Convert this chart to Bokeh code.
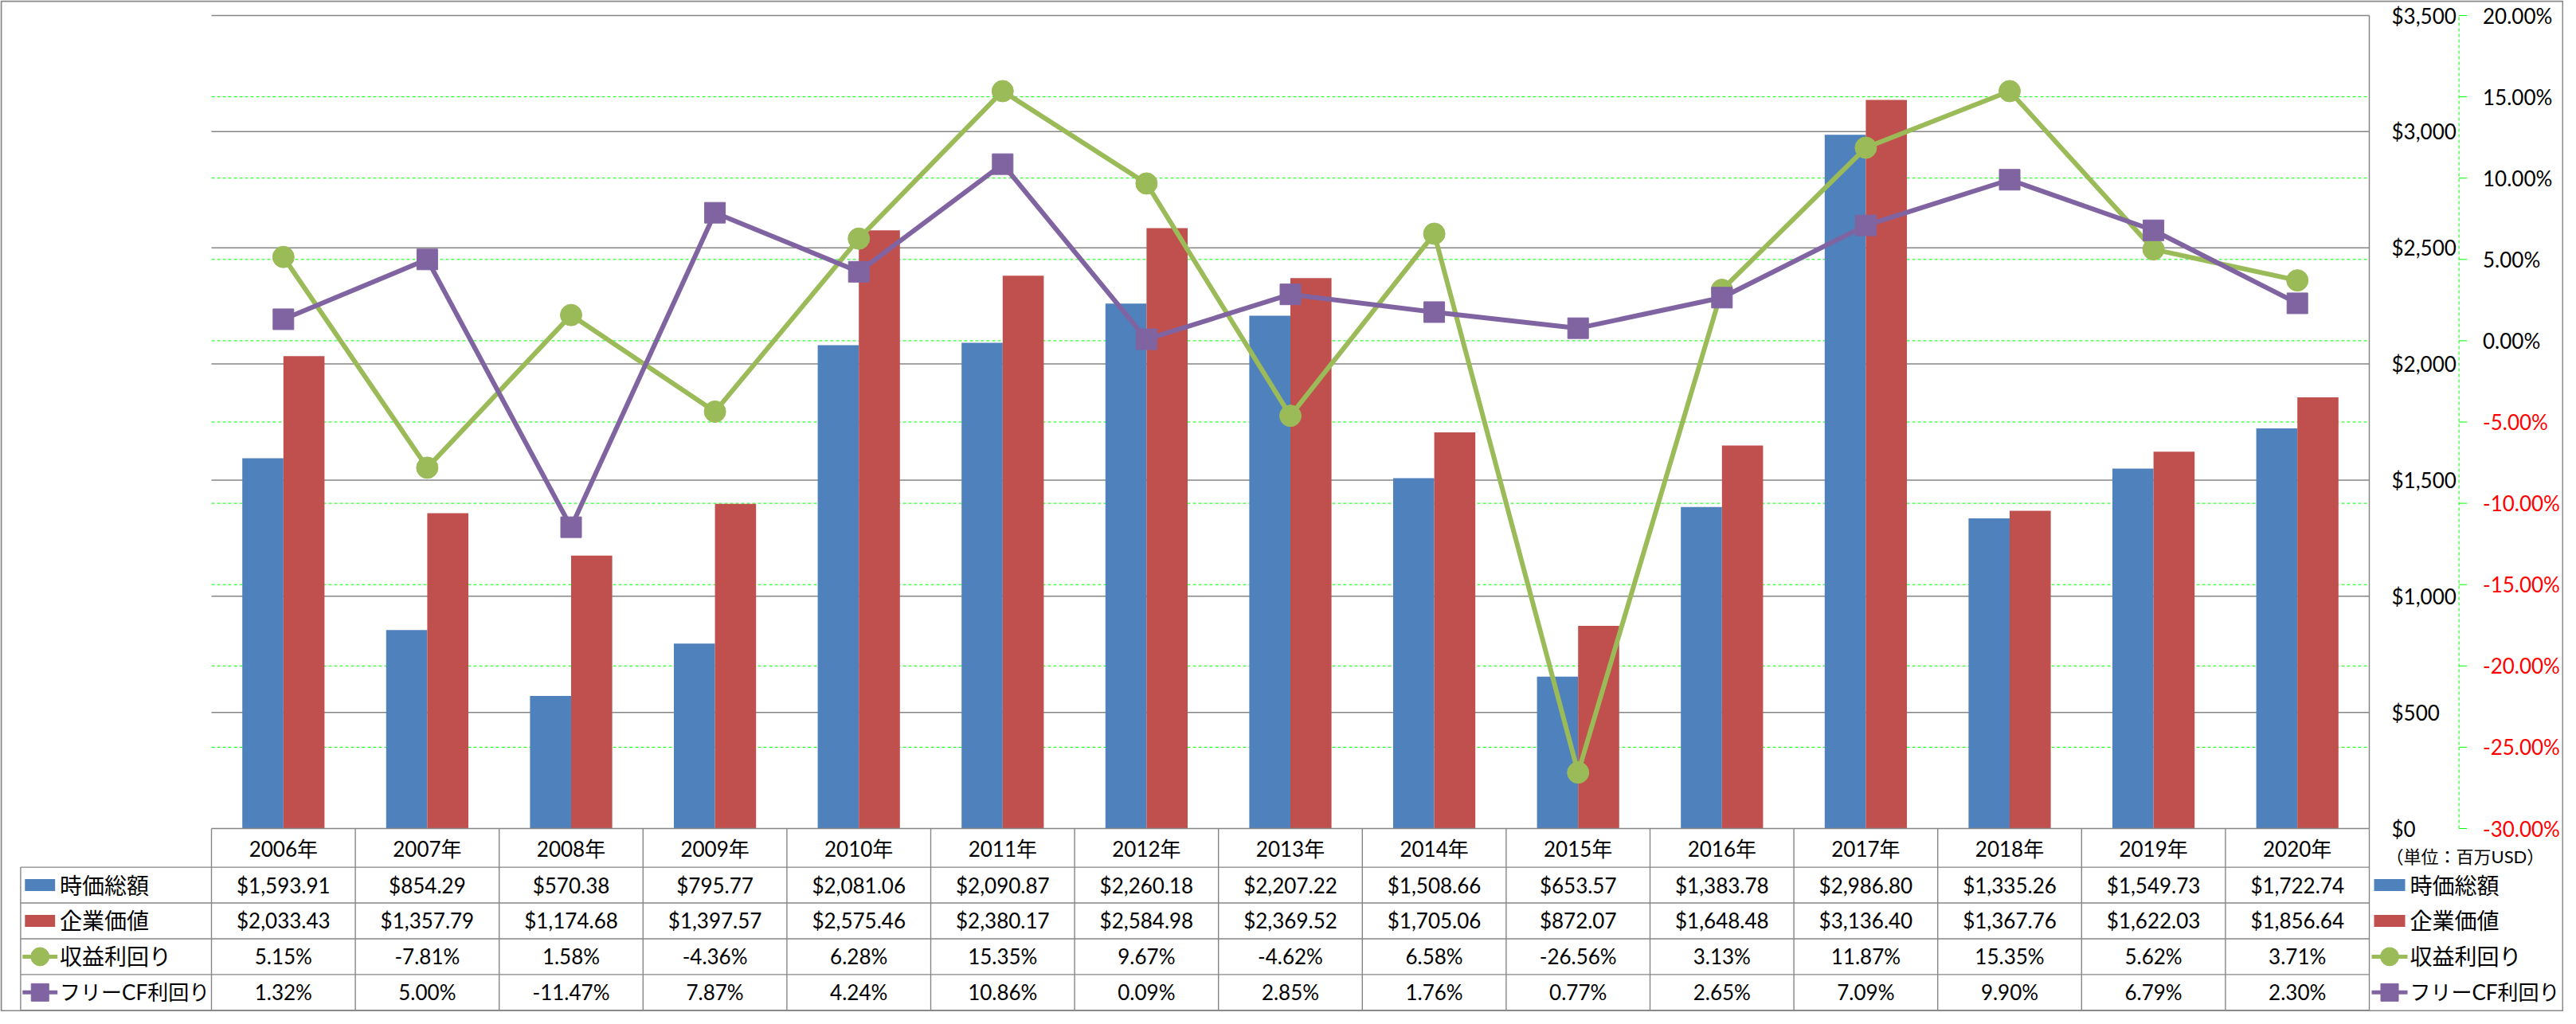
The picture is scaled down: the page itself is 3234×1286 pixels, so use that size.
from bokeh.plotting import figure
from bokeh.models import Range1d
from bokeh.embed import file_html
from bokeh.resources import INLINE
from bokeh.core.properties import value

# ---------------- data ----------------
years = ["2006年", "2007年", "2008年", "2009年", "2010年", "2011年", "2012年", "2013年",
         "2014年", "2015年", "2016年", "2017年", "2018年", "2019年", "2020年"]
mcap = [1593.91, 854.29, 570.38, 795.77, 2081.06, 2090.87, 2260.18, 2207.22,
        1508.66, 653.57, 1383.78, 2986.80, 1335.26, 1549.73, 1722.74]
ev = [2033.43, 1357.79, 1174.68, 1397.57, 2575.46, 2380.17, 2584.98, 2369.52,
      1705.06, 872.07, 1648.48, 3136.40, 1367.76, 1622.03, 1856.64]
earn_yield = [5.15, -7.81, 1.58, -4.36, 6.28, 15.35, 9.67, -4.62,
              6.58, -26.56, 3.13, 11.87, 15.35, 5.62, 3.71]
fcf_yield = [1.32, 5.00, -11.47, 7.87, 4.24, 10.86, 0.09, 2.85,
             1.76, 0.77, 2.65, 7.09, 9.90, 6.79, 2.30]
series_names = ["時価総額", "企業価値", "収益利回り", "フリーCF利回り"]
usd_ticks = [0, 500, 1000, 1500, 2000, 2500, 3000, 3500]
pct_ticks = [-30, -25, -20, -15, -10, -5, 0, 5, 10, 15, 20]
unit_note = "（単位：百万USD）"

# ---------------- style / layout (pixels) ----------------
BLUE, RED, GREEN, PURPLE = "#4F81BD", "#C0504D", "#9BBB59", "#8064A2"
GRAY, LIME, BORDER = "#868686", "#00FF00", "#898989"
FONT = "Lato, Noto Sans CJK JP"
FS = "26px"
LEG_FS = ["28px", "28px", "28px", "26px"]

W, H = 3218, 1270
PL, PR = 265, 2974          # plot area left / right
PT, PB = 19, 1040           # plot area top / bottom
HDR_B = 1088.6              # bottom of the header row of the data table
RH = 44.93                  # data table row height
LEG_L = 25.4                # left edge of the legend column of the table
USD_LX = 3002               # left edge of $ labels
PCT_AX = 3086.6             # % axis line
PCT_LX = 3116.5             # left edge of % labels

n = len(years)
cw = (PR - PL) / n
idx = list(range(n))


def x_at(px):
    return -0.5 + (px - PL) / cw


def usd_at(py):
    return (PB - py) * (usd_ticks[-1] - usd_ticks[0]) / (PB - PT) + usd_ticks[0]


def pct_at(py):
    return pct_ticks[0] + (PB - py) * (pct_ticks[-1] - pct_ticks[0]) / (PB - PT)


p = figure(width=W, height=H,
           x_range=Range1d(x_at(0), x_at(W)), y_range=Range1d(usd_at(H), usd_at(0)),
           min_border=0, x_axis_location=None, y_axis_location=None,
           toolbar_location=None, output_backend="svg", outline_line_color=None,
           background_fill_color="white", border_fill_color="white")
p.grid.grid_line_color = None
p.extra_y_ranges = {"pct": Range1d(pct_at(H), pct_at(0)), "px": Range1d(H, 0)}
p.extra_x_ranges = {"px": Range1d(0, W)}

txt = dict(text_font=value(FONT), text_font_size=FS, text_color="black",
           text_baseline="middle")

# ---------------- grid lines ----------------
p.segment(x0=-0.5, x1=n - 0.5, y0=usd_ticks[1:], y1=usd_ticks[1:],
          line_color=GRAY, line_width=1.5)
p.segment(x0=-0.5, x1=n - 0.5, y0=pct_ticks[1:-1], y1=pct_ticks[1:-1], y_range_name="pct",
          line_color=LIME, line_width=1, line_dash="4 3")

# ---------------- bars ----------------
gap = 1.5
bw = 1.0 / (2 + gap)
p.vbar(x=[i - bw / 2 for i in idx], top=mcap, width=bw, fill_color=BLUE, line_color=None)
p.vbar(x=[i + bw / 2 for i in idx], top=ev, width=bw, fill_color=RED, line_color=None)

# ---------------- lines ----------------
p.line(idx, earn_yield, y_range_name="pct", line_color=GREEN, line_width=6, line_join="round")
p.scatter(idx, earn_yield, y_range_name="pct", marker="circle", size=27,
          fill_color=GREEN, line_color=GREEN)
p.line(idx, fcf_yield, y_range_name="pct", line_color=PURPLE, line_width=6, line_join="round")
p.scatter(idx, fcf_yield, y_range_name="pct", marker="square", size=26,
          fill_color=PURPLE, line_color=PURPLE)

# ---------------- $ axis (right of plot) ----------------
p.segment(x0=n - 0.5, x1=n - 0.5, y0=usd_ticks[0], y1=usd_ticks[-1],
          line_color=GRAY, line_width=1.5)
p.text(x=USD_LX, y=usd_ticks, text=[f"${v:,}" for v in usd_ticks], x_range_name="px",
       text_align="left", **txt)

# ---------------- % axis ----------------
p.segment(x0=PCT_AX, x1=PCT_AX, y0=pct_ticks[0], y1=pct_ticks[-1],
          x_range_name="px", y_range_name="pct", line_color=LIME, line_width=1, line_dash="4 3")
p.segment(x0=PCT_AX, x1=PCT_AX + 10, y0=pct_ticks, y1=pct_ticks,
          x_range_name="px", y_range_name="pct", line_color=LIME, line_width=1)
p.text(x=PCT_LX, y=pct_ticks, text=[f"{t:.2f}%" for t in pct_ticks],
       x_range_name="px", y_range_name="pct", text_align="left",
       text_font=value(FONT), text_font_size=FS, text_baseline="middle",
       text_color=["#FF0000" if t < 0 else "black" for t in pct_ticks])

# ---------------- data table ----------------
rows_b = [HDR_B + k * RH for k in range(5)]
bounds = [i - 0.5 for i in range(n + 1)]
# top line of table (category axis line)
p.segment(x0=-0.5, x1=n - 0.5, y0=PB, y1=PB, y_range_name="px", line_color=GRAY, line_width=1.5)
# row lines
p.segment(x0=x_at(LEG_L), x1=n - 0.5, y0=rows_b, y1=rows_b, y_range_name="px",
          line_color=GRAY, line_width=1.4)
# column lines
p.segment(x0=bounds, x1=bounds, y0=PB, y1=rows_b[-1], y_range_name="px",
          line_color=GRAY, line_width=1.4)
p.segment(x0=x_at(LEG_L), x1=x_at(LEG_L), y0=rows_b[0], y1=rows_b[-1], y_range_name="px",
          line_color=GRAY, line_width=1.4)

# header row: category labels
p.text(x=idx, y=(PB + HDR_B) / 2 + 1, text=years, y_range_name="px", text_align="center", **txt)

row_y = [rows_b[r] + RH / 2 for r in range(4)]
cells = [[f"${v:,.2f}" for v in mcap],
         [f"${v:,.2f}" for v in ev],
         [f"{v:.2f}%" for v in earn_yield],
         [f"{v:.2f}%" for v in fcf_yield]]
for r in range(4):
    p.text(x=idx, y=row_y[r], text=cells[r], y_range_name="px", text_align="center", **txt)

# ---------------- legend keys (table legend column and right legend) ----------------
for key_l, key_r, text_px in [(30.8, 68.7, 74.6), (2980.0, 3019.0, 3025.0)]:
    p.quad(left=key_l, right=key_r,
           top=[row_y[0] - 7.5, row_y[1] - 7.5], bottom=[row_y[0] + 7.5, row_y[1] + 7.5],
           fill_color=[BLUE, RED], line_color=None, x_range_name="px", y_range_name="px")
    lxl, lxr = key_l - 3, key_r + 3
    xm = (lxl + lxr) / 2
    p.segment(x0=lxl, x1=lxr, y0=row_y[2], y1=row_y[2], x_range_name="px", y_range_name="px",
              line_color=GREEN, line_width=5)
    p.scatter([xm], [row_y[2]], marker="circle", size=23, fill_color=GREEN, line_color=GREEN,
              x_range_name="px", y_range_name="px")
    p.segment(x0=lxl, x1=lxr, y0=row_y[3], y1=row_y[3], x_range_name="px", y_range_name="px",
              line_color=PURPLE, line_width=5)
    p.scatter([xm], [row_y[3]], marker="square", size=22, fill_color=PURPLE, line_color=PURPLE,
              x_range_name="px", y_range_name="px")
    p.text(x=text_px, y=row_y, text=series_names, x_range_name="px", y_range_name="px",
           text_align="left", text_font=value(FONT), text_font_size=LEG_FS,
           text_color="black", text_baseline="middle")

# unit note
p.text(x=2995, y=1074.5, text=[unit_note], x_range_name="px", y_range_name="px",
       text_align="left", text_font=value(FONT), text_font_size="22px",
       text_color="black", text_baseline="middle")

# chart border
p.quad(left=1, right=W - 1, top=1, bottom=H - 1, fill_color=None, line_color=BORDER,
       line_width=2, x_range_name="px", y_range_name="px")

open("out.html", "w").write(file_html(p, INLINE))
